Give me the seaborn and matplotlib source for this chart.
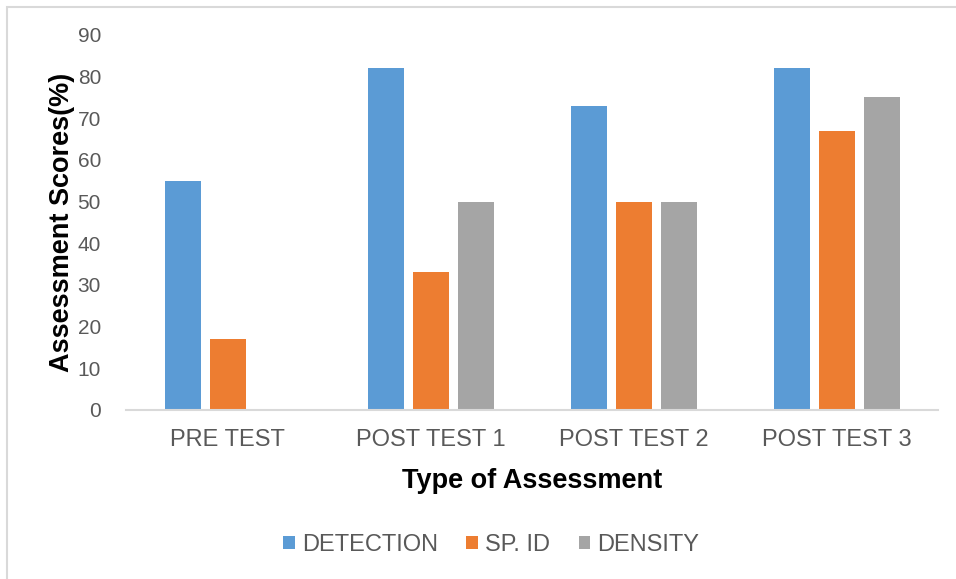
import pandas as pd
import matplotlib.pyplot as plt
import seaborn as sns
from matplotlib.patches import Rectangle

# chart values
assessments = ["PRE TEST", "POST TEST 1", "POST TEST 2", "POST TEST 3"]
detection = [55, 82, 73, 82]
sp_id = [17, 33, 50, 67]
density = [0, 50, 50, 75]
series_names = ["DETECTION", "SP. ID", "DENSITY"]
colors = ["#5B9BD5", "#ED7D31", "#A5A5A5"]

df = pd.DataFrame({
    "Assessment": assessments * 3,
    "Series": [s for s in series_names for _ in assessments],
    "Score": detection + sp_id + density,
})

sns.set_theme(style="white")
plt.rcParams["font.family"] = ["Liberation Sans", "DejaVu Sans"]

fig = plt.figure(figsize=(9.56, 5.79), dpi=100)
ax = fig.add_axes([0.1318, 0.2919, 0.8494, 0.6477])

sns.barplot(data=df, x="Assessment", y="Score", hue="Series",
            palette=colors, width=0.665, gap=0.2, ax=ax, saturation=1,
            errorbar=None, linewidth=0)

ax.set_ylim(0, 90)
ax.set_yticks(range(0, 91, 10))
ax.set_xlim(-0.5, 3.5)
for side in ["top", "right", "left"]:
    ax.spines[side].set_visible(False)
ax.spines["bottom"].set_color("#D9D9D9")
ax.spines["bottom"].set_linewidth(1.5)
ax.tick_params(axis="y", length=0, pad=18, labelsize=15, labelcolor="#595959")
ax.tick_params(axis="x", length=0, pad=14, labelsize=17, labelcolor="#595959")

ax.set_xlabel("Type of Assessment", fontsize=19.5, fontweight="bold", color="black", labelpad=12)
ax.set_ylabel("Assessment Scores(%)", fontsize=19.5, fontweight="bold", color="black", labelpad=2)

leg = ax.legend(loc="center", bbox_to_anchor=(0.45, -0.36), ncol=3, frameon=False,
                fontsize=17, handlelength=0.5, handleheight=0.5, handletextpad=0.3,
                columnspacing=1.2)
for t in leg.get_texts():
    t.set_color("#595959")

# light frame around the chart
fig.patches.append(Rectangle((7 / 956, -0.1), 1.2, 1 - 7 / 579 + 0.1,
                             transform=fig.transFigure, fill=False,
                             edgecolor="#D9D9D9", linewidth=1.5))

fig.savefig("out.png", dpi=100)
